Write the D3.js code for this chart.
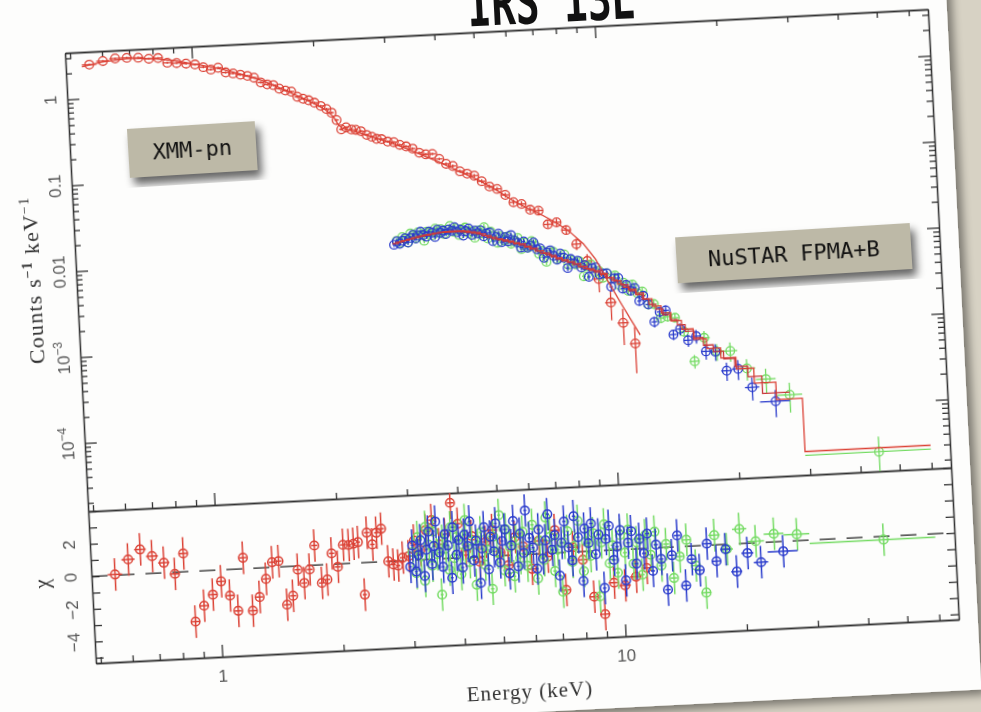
<!DOCTYPE html>
<html>
<head>
<meta charset="utf-8">
<title>XMM-pn + NuSTAR spectrum</title>
<script src="https://cdnjs.cloudflare.com/ajax/libs/d3/7.8.5/d3.min.js"></script>
<style>
  body { margin: 0; background: #d7d2c4; overflow: hidden; }
  .ax path, .ax line { stroke: #333; stroke-width: 1.3; fill: none; }
  .tick-lbl { font-family: "Liberation Sans", Arial, sans-serif; font-size: 17px; fill: #555; }
  .ttl { font-family: "Liberation Serif", "DejaVu Serif", serif; fill: #333; }
  .tag { font-family: "DejaVu Sans Mono", monospace; font-size: 22px; fill: #111; }
</style>
</head>
<body>
<svg id="chart" width="981" height="712"></svg>
<script>
// ---- XMM-pn (red): bin edges (keV), counts/s/keV, relative error, residual chi
var xmmEdges = [0.533, 0.579, 0.624, 0.667, 0.713, 0.760, 0.804, 0.845, 0.890, 0.940,
  0.990, 1.040, 1.087, 1.133, 1.181, 1.232, 1.285, 1.338, 1.390, 1.441,
  1.496, 1.550, 1.602, 1.658, 1.714, 1.773, 1.830, 1.890, 1.948, 2.016,
  2.090, 2.150, 2.210, 2.265, 2.320, 2.395, 2.460, 2.520, 2.605, 2.685,
  2.760, 2.830, 2.920, 3.030, 3.130, 3.240, 3.360, 3.485, 3.615, 3.750,
  3.895, 4.045, 4.200, 4.365, 4.540, 4.725, 4.920, 5.130, 5.355, 5.595,
  5.850, 6.120, 6.410, 6.720, 7.050, 7.410, 7.800, 8.225, 8.700, 9.225,
  9.800, 10.45, 11.15, 11.85];
var xmmFlux = [2.46, 2.66, 2.80, 2.81, 2.77, 2.66, 2.67, 2.33, 2.28, 2.22,
  2.14, 1.97, 1.83, 1.90, 1.66, 1.60, 1.53, 1.47, 1.39, 1.21,
  1.14, 1.11, 1.00, 0.945, 0.91, 0.785, 0.74, 0.705, 0.655, 0.595,
  0.545, 0.49, 0.40, 0.31, 0.325, 0.305, 0.30, 0.287, 0.258, 0.244,
  0.229, 0.226, 0.21, 0.205, 0.189, 0.18, 0.168, 0.149, 0.142, 0.142,
  0.123, 0.107, 0.10, 0.086, 0.08, 0.075, 0.064, 0.055, 0.051, 0.043,
  0.035, 0.033, 0.028, 0.027, 0.0185, 0.0193, 0.0155, 0.0105, 0.0066, 0.0040,
  0.0021, 0.0012, 0.00068];
var xmmErr = [0.03, 0.03, 0.03, 0.03, 0.03, 0.03, 0.03, 0.03, 0.03, 0.03,
  0.03, 0.03, 0.03, 0.03, 0.03, 0.03, 0.03, 0.03, 0.03, 0.03,
  0.03, 0.03, 0.03, 0.03, 0.03, 0.03, 0.03, 0.03, 0.03, 0.03,
  0.03, 0.03, 0.03, 0.035, 0.035, 0.035, 0.035, 0.035, 0.035, 0.035,
  0.035, 0.035, 0.035, 0.035, 0.035, 0.035, 0.035, 0.035, 0.035, 0.035,
  0.035, 0.04, 0.04, 0.045, 0.05, 0.05, 0.055, 0.06, 0.06, 0.065,
  0.07, 0.075, 0.08, 0.085, 0.09, 0.1, 0.12, 0.15, 0.2, 0.3,
  0.38, 0.45, 0.55];
var xmmChi = [0.05, 0.93, 1.51, 1.06, 0.62, -0.1, 1.13, -3.09, -2.14, -1.49,
  -0.7, -1.6, -2.56, 0.68, -2.6, -1.78, -0.69, 0.31, 0.36, -2.34,
  -1.81, -0.22, -1.06, -0.25, 1.21, -1.11, -0.92, 0.67, -0.17, 1.16,
  1.13, 1.19, 1.28, -1.96, 1.83, 1.09, 1.8, 2.03, 0.01, -0.2,
  -0.28, 0.19, 0.26, 1.2, 0.6, 1.8, 2.4, 0.9, 1.5, 3.4,
  2.1, 0.4, 1.3, -0.3, 0.9, 1.6, 0.2, -0.6, 1.1, 0.5,
  -0.9, 0.8, -0.2, 1.4, -2.3, 0.3, -0.5, -2.8, -3.9, -2.0,
  -2.2, -1.7, -1.2];
var xmmModelE = [0.533, 0.6, 0.7, 0.8, 0.9, 1.0, 1.1, 1.2, 1.3, 1.4,
  1.5, 1.6, 1.7, 1.8, 1.9, 2.0, 2.1, 2.2, 2.25, 2.3,
  2.4, 2.6, 2.8, 3.0, 3.3, 3.6, 4.0, 4.5, 5.0, 5.5,
  6.0, 6.5, 7.0, 7.6, 8.2, 8.8, 9.4, 10.0, 10.8, 11.85];
var xmmModelF = [2.35, 2.6, 2.75, 2.64, 2.45, 2.2, 1.98, 1.78, 1.58, 1.4,
  1.24, 1.07, 0.93, 0.81, 0.71, 0.62, 0.54, 0.44, 0.36, 0.32,
  0.30, 0.265, 0.232, 0.205, 0.17, 0.14, 0.111, 0.083, 0.064, 0.048,
  0.036, 0.029, 0.024, 0.019, 0.0145, 0.0105, 0.0068, 0.0038, 0.0019, 0.00085];

// ---- NuSTAR FPMA (green) data
var fpmaEdges = [3.02, 3.07, 3.12, 3.17, 3.22, 3.27, 3.32, 3.37, 3.42, 3.47,
  3.53, 3.59, 3.65, 3.71, 3.77, 3.83, 3.89, 3.96, 4.03, 4.10,
  4.17, 4.24, 4.31, 4.39, 4.47, 4.55, 4.63, 4.71, 4.80, 4.89,
  4.98, 5.07, 5.16, 5.26, 5.36, 5.46, 5.56, 5.67, 5.78, 5.89,
  6.00, 6.12, 6.24, 6.36, 6.49, 6.62, 6.75, 6.89, 7.03, 7.17,
  7.32, 7.47, 7.63, 7.79, 7.95, 8.12, 8.29, 8.47, 8.65, 8.84,
  9.03, 9.23, 9.43, 9.64, 9.86, 10.08, 10.32, 10.56, 10.81, 11.07,
  11.35, 11.65, 11.97, 12.32, 12.70, 13.15, 13.65, 14.20, 14.85, 15.60,
  16.50, 17.60, 18.90, 20.50, 22.60, 25.30, 29.30, 60.00];
var fpmaFlux = [0.0146, 0.0137, 0.0160, 0.0151, 0.0138, 0.0174, 0.0165, 0.0154, 0.0178, 0.0165,
  0.0141, 0.0179, 0.0175, 0.0162, 0.0192, 0.0172, 0.0188, 0.0164, 0.0184, 0.0202,
  0.0173, 0.0187, 0.0157, 0.0183, 0.0190, 0.0164, 0.0171, 0.0143, 0.0172, 0.0159,
  0.0187, 0.0138, 0.0164, 0.0146, 0.0121, 0.0143, 0.0128, 0.0141, 0.0116, 0.0123,
  0.0134, 0.0099, 0.0117, 0.0102, 0.0121, 0.0106, 0.0085, 0.0091, 0.0068, 0.0087,
  0.0088, 0.0072, 0.0075, 0.0081, 0.0061, 0.0068, 0.0061, 0.0066, 0.0044, 0.0057,
  0.0060, 0.0048, 0.0050, 0.0041, 0.0046, 0.0040, 0.0043, 0.0033, 0.0035, 0.0028,
  0.0033, 0.0026, 0.0027, 0.0019, 0.0019, 0.00129, 0.00133, 0.00128, 0.00087, 0.00039,
  0.00072, 0.00049, 0.00049, 0.00030, 0.00022, 0.00014, 0.000027];
var fpmaErr = [0.065, 0.065, 0.065, 0.065, 0.065, 0.065, 0.065, 0.065, 0.065, 0.065,
  0.065, 0.065, 0.065, 0.065, 0.065, 0.065, 0.065, 0.065, 0.065, 0.065,
  0.065, 0.065, 0.065, 0.065, 0.065, 0.065, 0.065, 0.065, 0.065, 0.065,
  0.085, 0.085, 0.085, 0.085, 0.085, 0.085, 0.085, 0.085, 0.085, 0.085,
  0.085, 0.085, 0.085, 0.085, 0.085, 0.085, 0.085, 0.085, 0.085, 0.085,
  0.085, 0.085, 0.085, 0.085, 0.085, 0.085, 0.085, 0.085, 0.085, 0.085,
  0.085, 0.085, 0.085, 0.085, 0.085, 0.085, 0.085, 0.085, 0.085, 0.085,
  0.12, 0.12, 0.12, 0.12, 0.12, 0.12, 0.12, 0.12, 0.12, 0.18,
  0.2, 0.22, 0.25, 0.28, 0.32, 0.38, 0.5];
var fpmaChi = [0.5, -0.8, 1.4, 0.2, -1.3, 2.0, 0.9, -0.4, 1.7, 0.3,
  -2.2, 1.1, 0.6, -0.7, 1.9, 0.0, 1.3, -1.0, 0.8, 2.3,
  -0.3, 1.0, -1.7, 0.7, 1.5, -0.5, 0.4, -2.0, 1.2, 0.2,
  2.5, -0.9, 1.6, 0.5, -1.3, 0.9, -0.2, 1.4, -0.7, 0.3,
  1.8, -1.5, 0.8, -0.4, 2.2, 1.0, -1.1, 0.2, -2.4, 0.6,
  1.3, -0.6, 0.4, 1.9, -1.2, 0.6, -0.3, 1.1, -2.8, 0.5,
  1.6, -0.8, 0.3, -1.4, 0.9, -0.2, 1.2, -0.9, 0.4, -1.6,
  0.8, -0.4, 1.0, -1.1, 0.2, -1.9, -0.6, 0.4, -1.2, -2.9,
  0.6, -0.3, 0.9, 0.1, 0.5, 0.4, -0.2];
// FPMA model, per response bin
var fpmaModelEdges = [3.02, 3.12, 3.22, 3.32, 3.42, 3.525, 3.635, 3.745, 3.86, 3.98,
  4.1, 4.225, 4.355, 4.485, 4.62, 4.76, 4.905, 5.055, 5.215, 5.385,
  5.56, 5.74, 5.925, 6.12, 6.325, 6.54, 6.765, 7.0, 7.245, 7.5,
  7.765, 8.04, 8.325, 8.625, 8.94, 9.27, 9.62, 9.99, 10.38, 10.79,
  11.225, 11.7, 12.225, 12.8, 13.45, 14.2, 15.05, 16.05, 17.25, 18.65,
  20.3, 22.4, 25.3, 29.3, 60.0];
var fpmaModel = [0.0140, 0.0145, 0.0150, 0.0155, 0.0159, 0.0163, 0.0167, 0.0170, 0.0173, 0.0175,
  0.0176, 0.0176, 0.0175, 0.0172, 0.0168, 0.0163, 0.0156, 0.0148, 0.0140, 0.0134,
  0.0129, 0.0124, 0.0118, 0.0113, 0.0106, 0.0099, 0.0092, 0.0086, 0.0080, 0.0074,
  0.0070, 0.0066, 0.0062, 0.0057, 0.0053, 0.0050, 0.0046, 0.0041, 0.0037, 0.0033,
  0.0029, 0.0026, 0.0022, 0.0018, 0.00148, 0.00118, 0.00093, 0.00070, 0.00054, 0.00041,
  0.00030, 0.00020, 0.000125, 0.00003];

// ---- NuSTAR FPMB (blue) data
var fpmbEdges = [2.97, 3.02, 3.07, 3.12, 3.17, 3.22, 3.27, 3.32, 3.37, 3.42,
  3.47, 3.52, 3.58, 3.64, 3.70, 3.76, 3.82, 3.88, 3.94, 4.00,
  4.07, 4.14, 4.21, 4.28, 4.35, 4.42, 4.49, 4.56, 4.64, 4.72,
  4.80, 4.88, 4.96, 5.04, 5.13, 5.22, 5.31, 5.40, 5.49, 5.59,
  5.69, 5.79, 5.89, 6.00, 6.11, 6.22, 6.33, 6.45, 6.57, 6.69,
  6.81, 6.94, 7.07, 7.20, 7.34, 7.48, 7.62, 7.77, 7.92, 8.07,
  8.23, 8.39, 8.56, 8.73, 8.91, 9.09, 9.28, 9.47, 9.67, 9.87,
  10.08, 10.30, 10.52, 10.75, 10.99, 11.24, 11.50, 11.77, 12.05, 12.35,
  12.70, 13.10, 13.55, 14.05, 14.60, 15.20, 15.90, 16.70, 17.60, 18.60,
  19.80, 21.20, 23.00, 27.30];
var fpmbFlux = [0.0132, 0.0144, 0.0134, 0.0145, 0.0155, 0.0138, 0.0155, 0.0168, 0.0151, 0.0163,
  0.0180, 0.0164, 0.0157, 0.0179, 0.0173, 0.0154, 0.0186, 0.0170, 0.0180, 0.0164,
  0.0184, 0.0178, 0.0194, 0.0169, 0.0180, 0.0153, 0.0173, 0.0184, 0.0155, 0.0172,
  0.0160, 0.0172, 0.0146, 0.0158, 0.0161, 0.0127, 0.0141, 0.0154, 0.0122, 0.0139,
  0.0124, 0.0146, 0.0126, 0.0118, 0.0103, 0.0121, 0.0102, 0.0107, 0.0116, 0.0096,
  0.0098, 0.0076, 0.0087, 0.0092, 0.0079, 0.0071, 0.0083, 0.0074, 0.0056, 0.0071,
  0.0063, 0.0067, 0.0056, 0.0059, 0.0043, 0.0054, 0.0055, 0.0045, 0.0046, 0.0046,
  0.0032, 0.0040, 0.0040, 0.0030, 0.0033, 0.0028, 0.0030, 0.0021, 0.0024, 0.0019,
  0.00118, 0.00153, 0.00158, 0.00082, 0.00094, 0.00069, 0.00076, 0.00050, 0.00049, 0.00029,
  0.00030, 0.00018, 0.00012];
var fpmbErr = [0.06, 0.06, 0.06, 0.06, 0.06, 0.06, 0.06, 0.06, 0.06, 0.06,
  0.06, 0.06, 0.06, 0.06, 0.06, 0.06, 0.06, 0.06, 0.06, 0.06,
  0.06, 0.06, 0.06, 0.06, 0.06, 0.06, 0.06, 0.06, 0.06, 0.06,
  0.06, 0.06, 0.08, 0.08, 0.08, 0.08, 0.08, 0.08, 0.08, 0.08,
  0.08, 0.08, 0.08, 0.08, 0.08, 0.08, 0.08, 0.08, 0.08, 0.08,
  0.08, 0.08, 0.08, 0.08, 0.08, 0.08, 0.08, 0.08, 0.08, 0.08,
  0.08, 0.08, 0.08, 0.08, 0.08, 0.08, 0.08, 0.08, 0.08, 0.08,
  0.11, 0.11, 0.11, 0.11, 0.11, 0.11, 0.11, 0.11, 0.11, 0.11,
  0.14, 0.14, 0.14, 0.14, 0.16, 0.16, 0.18, 0.2, 0.22, 0.24,
  0.26, 0.3, 0.35];
var fpmbChi = [-0.4, 0.9, -0.7, 0.3, 1.2, -1.0, 0.6, 1.7, -0.3, 0.8,
  2.3, 0.4, -0.5, 1.5, 0.8, -1.2, 1.9, 0.2, 1.1, -0.6,
  1.4, 0.7, 2.2, -0.2, 1.0, -1.6, 0.5, 1.8, -0.8, 1.2,
  0.3, 2.0, -0.4, 0.9, 1.6, -1.1, 0.6, 2.1, -0.7, 1.3,
  0.1, 2.7, 1.0, 0.4, -0.9, 1.5, -0.3, 0.8, 2.4, 0.2,
  1.1, -1.4, 0.6, 1.9, 0.3, -0.5, 2.2, 0.9, -1.8, 1.4,
  0.5, 1.7, -0.2, 1.0, -2.3, 0.7, 1.5, -0.6, 0.2, 1.2,
  -1.9, 0.4, 1.1, -0.9, 0.6, -0.3, 0.9, -1.4, 0.2, -0.7,
  -2.6, -0.5, 0.7, -2.4, -0.8, -1.5, 0.1, -1.0, -0.3, -1.7,
  -0.6, -1.2, -0.6];
// FPMB model, per response bin
var fpmbModelEdges = [2.97, 3.07, 3.17, 3.27, 3.37, 3.47, 3.575, 3.685, 3.795, 3.91,
  4.03, 4.15, 4.275, 4.405, 4.535, 4.67, 4.81, 4.955, 5.105, 5.26,
  5.42, 5.585, 5.755, 5.93, 6.11, 6.295, 6.485, 6.68, 6.885, 7.095,
  7.31, 7.535, 7.765, 8.0, 8.245, 8.5, 8.765, 9.04, 9.325, 9.62,
  9.925, 10.24, 10.575, 10.925, 11.3, 11.7, 12.125, 12.575, 13.05, 13.575,
  14.125, 14.7, 15.35, 16.1, 16.95, 17.9, 18.95, 20.15, 21.65, 23.4,
  27.3];
var fpmbModel = [0.0136, 0.0141, 0.0146, 0.0151, 0.0155, 0.0159, 0.0163, 0.0166, 0.0169, 0.0171,
  0.0172, 0.0172, 0.0171, 0.0169, 0.0166, 0.0162, 0.0157, 0.0149, 0.0141, 0.0135,
  0.0130, 0.0125, 0.0120, 0.0115, 0.0110, 0.0104, 0.0098, 0.0092, 0.0086, 0.0082,
  0.0077, 0.0072, 0.0068, 0.0065, 0.0061, 0.0057, 0.0054, 0.0051, 0.0048, 0.0045,
  0.0041, 0.0038, 0.0034, 0.0031, 0.0028, 0.0025, 0.0022, 0.0019, 0.00165, 0.0014,
  0.00122, 0.00105, 0.00088, 0.00073, 0.00059, 0.00049, 0.0004, 0.00032, 0.00024, 0.00015];

// tick labels
var energyTickVals = [1, 10];
var energyTickText = ["1", "10"];
var fluxTickVals = [1, 0.1, 0.01, 0.001, 0.0001];
var fluxTickText = ["1", "0.1", "0.01", "10^\u22123", "10^\u22124"];
var chiTickVals = [2, 0, -2, -4];
var chiTickText = ["2", "0", "\u22122", "\u22124"];

var W = 864, H1 = 459, H2 = 152;
var red = "#db4236", green = "#74db63", blue = "#2b3ccc";

var svg = d3.select("#chart");
var defs = svg.append("defs");

function shadow(id, dx, dy, blur, alpha) {
  var f = defs.append("filter").attr("id", id)
    .attr("x", "-20%").attr("y", "-20%").attr("width", "140%").attr("height", "140%");
  f.append("feGaussianBlur").attr("in", "SourceAlpha").attr("stdDeviation", blur);
  f.append("feOffset").attr("dx", dx).attr("dy", dy).attr("result", "off");
  f.append("feComponentTransfer").append("feFuncA").attr("type", "linear").attr("slope", alpha);
  var m = f.append("feMerge");
  m.append("feMergeNode");
  m.append("feMergeNode").attr("in", "SourceGraphic");
}
shadow("cardShadow", 5, 5, 5, 0.45);
shadow("tagShadow", 4, 7, 4, 0.6);
defs.append("filter").attr("id", "soft").append("feGaussianBlur").attr("stdDeviation", 0.45);
defs.append("clipPath").attr("id", "clipTop").append("rect").attr("width", W).attr("height", H1);
defs.append("clipPath").attr("id", "clipRes").append("rect").attr("y", H1).attr("width", W).attr("height", H2);

svg.append("rect").attr("width", 981).attr("height", 712).attr("fill", "#d7d2c4");

// the whole slide is tilted a little
var card = svg.append("g").attr("transform", "translate(65,53) rotate(-2.9)");
card.append("rect").attr("x", -250).attr("y", -250).attr("width", 1133).attr("height", 932)
  .attr("fill", "#fdfdfc").attr("filter", "url(#cardShadow)");

card.append("text").attr("transform", "translate(404,-6) scale(1,1.5)")
  .attr("font-family", "'DejaVu Sans Mono', monospace").attr("font-weight", "bold")
  .attr("font-size", 40).attr("fill", "#111").text("IRS 13E");

var g = card.append("g").attr("filter", "url(#soft)");

var x = d3.scaleLog().domain([0.486, 67]).range([0, W]);
var yTop = d3.scaleLog().domain([1.6e-5, 3.47]).range([H1, 0]);
var yRes = d3.scaleLinear().domain([-5.33, 4.0]).range([H1 + H2, H1]);

function isDecade(v) { var l = Math.log10(v); return Math.abs(l - Math.round(l)) < 1e-6; }
var xt = x.ticks(), yt = yTop.ticks();
var xMaj = xt.filter(isDecade), xMin = xt.filter(function(v) { return !isDecade(v); });
var yMaj = yt.filter(isDecade), yMin = yt.filter(function(v) { return !isDecade(v); });

function axisPair(gen, scale, major, minor, lMaj, lMin, tr) {
  var a = g.append("g").attr("class", "ax").attr("transform", tr);
  a.append("g").call(gen(scale).tickValues(minor).tickSize(-lMin).tickSizeOuter(0).tickFormat(""));
  a.append("g").call(gen(scale).tickValues(major).tickSize(-lMaj).tickSizeOuter(0).tickFormat(""));
}

// upper panel frame
axisPair(d3.axisTop, x, xMaj, xMin, 12, 6, "translate(0,0)");
axisPair(d3.axisBottom, x, xMaj, xMin, 12, 6, "translate(0," + H1 + ")");
axisPair(d3.axisLeft, yTop, yMaj, yMin, 12, 6, "translate(0,0)");
axisPair(d3.axisRight, yTop, yMaj, yMin, 12, 6, "translate(" + W + ",0)");
// lower panel frame
axisPair(d3.axisBottom, x, xMaj, xMin, 12, 6, "translate(0," + (H1 + H2) + ")");
var chiT = yRes.ticks();
axisPair(d3.axisLeft, yRes, [], chiT, 8, 8, "translate(0,0)");
axisPair(d3.axisRight, yRes, [], chiT, 8, 8, "translate(" + W + ",0)");

function setLabel(sel, str) {
  var p = str.split("^");
  sel.append("tspan").text(p[0]);
  if (p[1]) sel.append("tspan").attr("dy", -7).attr("font-size", "0.72em").text(p[1]);
}

g.selectAll(".fl").data(fluxTickVals).join("text").attr("class", "tick-lbl fl")
  .attr("transform", function(d) { return "translate(-17," + yTop(d) + ") rotate(-90)"; })
  .attr("text-anchor", "middle").attr("dy", "0.35em")
  .each(function(d, i) { setLabel(d3.select(this), fluxTickText[i]); });

g.selectAll(".cl").data(chiTickVals).join("text").attr("class", "tick-lbl cl")
  .attr("transform", function(d) { return "translate(-21," + yRes(d) + ") rotate(-90)"; })
  .attr("text-anchor", "middle").attr("dy", "0.35em")
  .text(function(d, i) { return chiTickText[i]; });

g.selectAll(".el").data(energyTickVals).join("text").attr("class", "tick-lbl el")
  .attr("x", function(d) { return x(d); }).attr("y", H1 + H2 + 25)
  .attr("text-anchor", "middle").text(function(d, i) { return energyTickText[i]; });

// axis titles
g.append("text").attr("class", "ttl").attr("x", W / 2).attr("y", H1 + H2 + 57)
  .attr("text-anchor", "middle").attr("font-size", 21).attr("letter-spacing", 1)
  .text("Energy (keV)");
var yt1 = g.append("text").attr("class", "ttl")
  .attr("transform", "translate(-44," + (H1 / 2 - 4) + ") rotate(-90)")
  .attr("text-anchor", "middle").attr("dy", "0.35em").attr("font-size", 22).attr("letter-spacing", 1.2);
yt1.append("tspan").text("Counts s");
yt1.append("tspan").attr("dy", -8).attr("font-size", 14).attr("font-weight", "bold").text("\u22121");
yt1.append("tspan").attr("dy", 8).text(" keV");
yt1.append("tspan").attr("dy", -8).attr("font-size", 14).text("\u22121");
g.append("text").attr("class", "ttl")
  .attr("transform", "translate(-50," + (H1 + 70) + ") rotate(-90)")
  .attr("text-anchor", "middle").attr("dy", "0.35em").attr("font-size", 21).text("\u03c7");

// ---- data
function bins(edges, flux, err, chi) {
  return flux.map(function(f, i) {
    return { lo: edges[i], hi: edges[i + 1], e: (edges[i] + edges[i + 1]) / 2, f: f, err: err[i], chi: chi[i] };
  });
}
var xmm = bins(xmmEdges, xmmFlux, xmmErr, xmmChi);
var fpma = bins(fpmaEdges, fpmaFlux, fpmaErr, fpmaChi);
var fpmb = bins(fpmbEdges, fpmbFlux, fpmbErr, fpmbChi);

var topLayer = g.append("g").attr("clip-path", "url(#clipTop)");
var resLayer = g.append("g").attr("clip-path", "url(#clipRes)");

resLayer.append("line").attr("x1", 0).attr("x2", W).attr("y1", yRes(0)).attr("y2", yRes(0))
  .attr("stroke", "#222").attr("stroke-width", 1.3).attr("stroke-dasharray", "16,11");

function drawSeries(layer, data, color, sw, yv, ylo, yhi) {
  var s = layer.append("g").attr("stroke", color).attr("fill", "none").attr("stroke-width", sw);
  s.selectAll(".h").data(data).join("line").attr("class", "h")
    .attr("x1", function(d) { return x(d.lo); }).attr("x2", function(d) { return x(d.hi); })
    .attr("y1", yv).attr("y2", yv);
  s.selectAll(".v").data(data).join("line").attr("class", "v")
    .attr("x1", function(d) { return x(d.e); }).attr("x2", function(d) { return x(d.e); })
    .attr("y1", ylo).attr("y2", yhi);
  s.selectAll("circle").data(data).join("circle")
    .attr("cx", function(d) { return x(d.e); }).attr("cy", yv).attr("r", 4.3);
}
function upper(layer, data, color) {
  drawSeries(layer, data, color, 1.3,
    function(d) { return yTop(d.f); },
    function(d) { return yTop(Math.max(d.f * (1 - d.err), 1e-6)); },
    function(d) { return yTop(d.f * (1 + d.err)); });
}
function lower(layer, data, color) {
  drawSeries(layer, data, color, 1.5,
    function(d) { return yRes(d.chi); },
    function(d) { return yRes(d.chi - 1); },
    function(d) { return yRes(d.chi + 1); });
}
upper(topLayer, xmm, red); upper(topLayer, fpma, green); upper(topLayer, fpmb, blue);
lower(resLayer, xmm, red); lower(resLayer, fpma, green); lower(resLayer, fpmb, blue);

// models
var modelLine = d3.line().x(function(d) { return x(d[0]); }).y(function(d) { return yTop(d[1]); });
topLayer.append("path").datum(xmmModelE.map(function(e, i) { return [e, xmmModelF[i]]; }))
  .attr("d", modelLine).attr("fill", "none").attr("stroke", red).attr("stroke-width", 1.3);
var stepLine = d3.line().x(function(d) { return x(d[0]); }).y(function(d) { return yTop(d[1]); })
  .curve(d3.curveStepAfter);
function steps(edges, model) {
  var p = model.map(function(m, i) { return [edges[i], m]; });
  p.push([edges[edges.length - 1], model[model.length - 1]]);
  return p;
}
topLayer.append("path").datum(steps(fpmaModelEdges, fpmaModel)).attr("d", stepLine)
  .attr("fill", "none").attr("stroke", red).attr("stroke-width", 1.3);
topLayer.append("path").datum(steps(fpmbModelEdges, fpmbModel)).attr("d", stepLine)
  .attr("fill", "none").attr("stroke", "#c8383a").attr("stroke-width", 1.3);

// instrument tags
function tag(x0, y0, w, h, label) {
  var t = card.append("g").attr("transform", "translate(" + x0 + "," + y0 + ") rotate(-0.6)");
  t.append("rect").attr("width", w).attr("height", h).attr("fill", "#bdb9a7").attr("filter", "url(#tagShadow)");
  t.append("text").attr("class", "tag").attr("x", w / 2).attr("y", h / 2).attr("dy", "0.36em")
    .attr("text-anchor", "middle").text(label);
}
tag(58, 79, 128, 49, "XMM-pn");
tag(600, 215, 235, 46, "NuSTAR FPMA+B");
</script>
</body>
</html>
